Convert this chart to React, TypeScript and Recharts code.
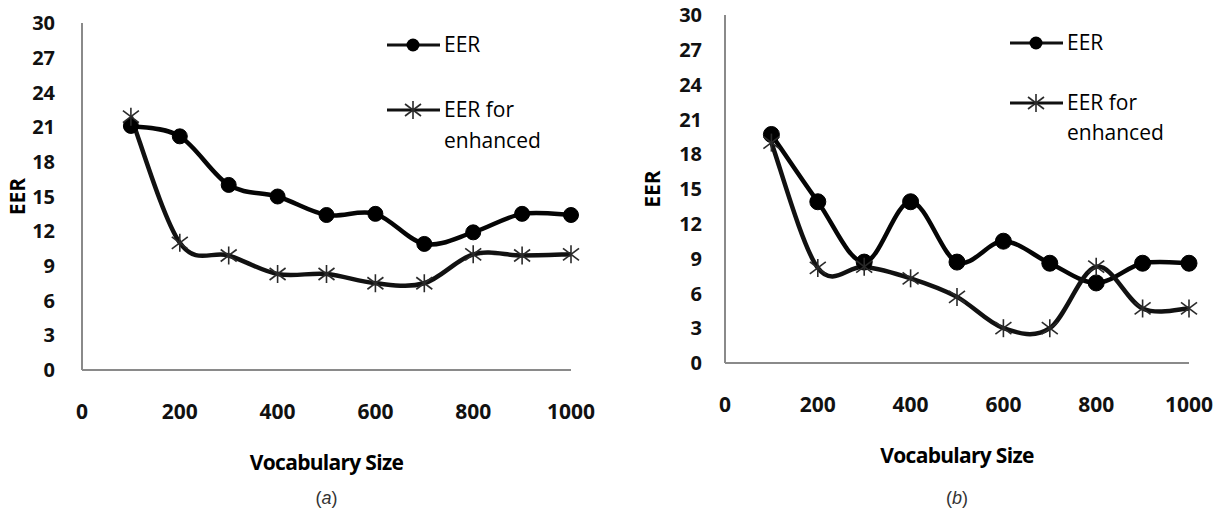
import React from 'react';
import { LineChart, Line, XAxis, YAxis, Legend, Label } from 'recharts';

// vocabulary sizes on the x axis
const sizes = [100, 200, 300, 400, 500, 600, 700, 800, 900, 1000];
const xTicks = [0, 200, 400, 600, 800, 1000];
const yTicks = [0, 3, 6, 9, 12, 15, 18, 21, 24, 27, 30];

// panel (a)
const eerA = [21.1, 20.2, 16.0, 15.0, 13.4, 13.5, 10.9, 11.9, 13.5, 13.4];
const enhancedA = [21.9, 11.0, 9.9, 8.3, 8.3, 7.5, 7.5, 10.0, 9.9, 10.0];

// panel (b)
const eerB = [19.7, 13.9, 8.7, 13.9, 8.7, 10.5, 8.6, 6.9, 8.6, 8.6];
const enhancedB = [19.0, 8.2, 8.3, 7.3, 5.7, 3.0, 3.0, 8.3, 4.7, 4.7];

const buildRows = (eer: number[], enhanced: number[]) =>
  sizes.map((size, i) => ({ size, eer: eer[i], enhanced: enhanced[i] }));

const FONT = '"Open Sans", sans-serif';
const AXIS_GREY = '#8a8a8a';

// Excel-like smoothed line (uniform Catmull-Rom through every point)
const smoothCurve = (context: any) => {
  let pts: [number, number][] = [];
  return {
    areaStart() {},
    areaEnd() {},
    lineStart() {
      pts = [];
    },
    lineEnd() {
      if (!pts.length) return;
      context.moveTo(pts[0][0], pts[0][1]);
      for (let i = 0; i < pts.length - 1; i++) {
        const p0 = pts[Math.max(i - 1, 0)];
        const p1 = pts[i];
        const p2 = pts[i + 1];
        const p3 = pts[Math.min(i + 2, pts.length - 1)];
        context.bezierCurveTo(
          p1[0] + (p2[0] - p0[0]) / 6,
          p1[1] + (p2[1] - p0[1]) / 6,
          p2[0] - (p3[0] - p1[0]) / 6,
          p2[1] - (p3[1] - p1[1]) / 6,
          p2[0],
          p2[1]
        );
      }
    },
    point(x: number, y: number) {
      pts.push([x, y]);
    },
  };
};

const StarMark: React.FC<{ cx: number; cy: number }> = ({ cx, cy }) => (
  <g stroke="#2a2a2a" strokeWidth={1.6}>
    <line x1={cx} y1={cy - 9} x2={cx} y2={cy + 9} />
    <line x1={cx - 8} y1={cy - 6} x2={cx + 8} y2={cy + 6} />
    <line x1={cx - 8} y1={cy + 6} x2={cx + 8} y2={cy - 6} />
  </g>
);

const renderStar = (props: any) => {
  const { cx, cy, index } = props;
  return (
    <g key={`star-${index}`}>
      <StarMark cx={cx} cy={cy} />
    </g>
  );
};

interface LegendLayout {
  left: number;
  top: number;
  row2: number;
  lineGap: number;
}

const LegendBox: React.FC<{ layout: LegendLayout }> = ({ layout }) => {
  const textStyle = { fontFamily: FONT, fontSize: 21, fill: '#000' };
  return (
    <svg width={200} height={150} style={{ display: 'block', overflow: 'visible' }}>
      <line x1={7} y1={25} x2={60} y2={25} stroke="#111" strokeWidth={3} />
      <circle cx={33} cy={25} r={6.5} fill="#000" />
      <text x={64} y={32} style={textStyle}>EER</text>
      <line x1={7} y1={layout.row2} x2={60} y2={layout.row2} stroke="#111" strokeWidth={3} />
      <StarMark cx={33} cy={layout.row2} />
      <text x={64} y={layout.row2 + 7} style={textStyle}>EER for</text>
      <text x={64} y={layout.row2 + 7 + layout.lineGap} style={textStyle}>enhanced</text>
    </svg>
  );
};

interface PanelProps {
  eer: number[];
  enhanced: number[];
  caption: string;
  left: number;
  width: number;
  margin: { top: number; right: number; left: number; bottom: number };
  yAxisWidth: number;
  yTickMargin: number;
  yLabelOffset: number;
  captionDy: number;
  dotRadius: number;
  legend: LegendLayout;
}

const Panel: React.FC<PanelProps> = ({
  eer,
  enhanced,
  caption,
  left,
  width,
  margin,
  yAxisWidth,
  yTickMargin,
  yLabelOffset,
  captionDy,
  dotRadius,
  legend,
}) => {
  const data = buildRows(eer, enhanced);
  return (
    <div style={{ position: 'absolute', left, top: 0, width, height: 512 }}>
      <LineChart width={width} height={512} data={data} margin={margin}>
        <XAxis
          dataKey="size"
          type="number"
          domain={[0, 1000]}
          ticks={xTicks}
          height={100}
          tickLine={false}
          tickSize={0}
          tickMargin={34}
          stroke={AXIS_GREY}
          strokeWidth={2}
          tick={{ fill: '#111', fontFamily: FONT, fontWeight: 700, fontSize: 21 }}
        >
          <Label
            value="Vocabulary Size"
            position="insideBottom"
            offset={0}
            style={{ fontFamily: FONT, fontWeight: 700, fontSize: 21, fill: '#000', letterSpacing: -0.7 }}
          />
          <Label
            content={(p: any) => {
              const vb = p.viewBox || {};
              return (
                <text
                  x={vb.x + vb.width / 2}
                  y={vb.y + vb.height + captionDy}
                  textAnchor="middle"
                  style={{ fontFamily: '"Liberation Sans", Arial, sans-serif', fontSize: 18, fill: '#333' }}
                >
                  (<tspan fontStyle="italic">{caption}</tspan>)
                </text>
              );
            }}
          />
        </XAxis>
        <YAxis
          type="number"
          domain={[0, 30]}
          ticks={yTicks}
          width={yAxisWidth}
          tickLine={false}
          tickSize={0}
          tickMargin={yTickMargin}
          stroke={AXIS_GREY}
          strokeWidth={2}
          tick={{ fill: '#111', fontFamily: FONT, fontWeight: 700, fontSize: 20 }}
        >
          <Label
            value="EER"
            angle={-90}
            position="insideLeft"
            offset={yLabelOffset}
            style={{ textAnchor: 'middle', fontFamily: FONT, fontWeight: 700, fontSize: 21, fill: '#000' }}
          />
        </YAxis>
        <Legend
          layout="horizontal"
          verticalAlign="middle"
          align="center"
          wrapperStyle={{ left: legend.left, top: legend.top, width: 200, height: 150 }}
          content={() => <LegendBox layout={legend} />}
        />
        <Line
          type={smoothCurve as any}
          dataKey="eer"
          name="EER"
          stroke="#050505"
          strokeWidth={4.5}
          dot={{ r: dotRadius, fill: '#000', stroke: '#000', strokeWidth: 1 }}
          activeDot={false}
          isAnimationActive={false}
        />
        <Line
          type={smoothCurve as any}
          dataKey="enhanced"
          name="EER for enhanced"
          stroke="#111"
          strokeWidth={4.5}
          dot={renderStar}
          activeDot={false}
          isAnimationActive={false}
        />
      </LineChart>
    </div>
  );
};

const App: React.FC = () => (
  <div
    style={{
      position: 'absolute',
      left: 0,
      top: 0,
      width: 1225,
      height: 512,
      background: '#fff',
      overflow: 'hidden',
      fontFamily: FONT,
    }}
  >
    <Panel
      eer={eerA}
      enhanced={enhancedA}
      caption="a"
      left={0}
      width={600}
      margin={{ top: 23, right: 29, left: 0, bottom: 42 }}
      yAxisWidth={82}
      yTickMargin={27}
      yLabelOffset={18}
      captionDy={34}
      dotRadius={7.5}
      legend={{ left: 380, top: 20, row2: 90, lineGap: 31 }}
    />
    <Panel
      eer={eerB}
      enhanced={enhancedB}
      caption="b"
      left={620}
      width={605}
      margin={{ top: 15, right: 36, left: 0, bottom: 49 }}
      yAxisWidth={105}
      yTickMargin={23}
      yLabelOffset={33}
      captionDy={41}
      dotRadius={8}
      legend={{ left: 383, top: 18, row2: 85, lineGap: 30 }}
    />
  </div>
);

export default App;
